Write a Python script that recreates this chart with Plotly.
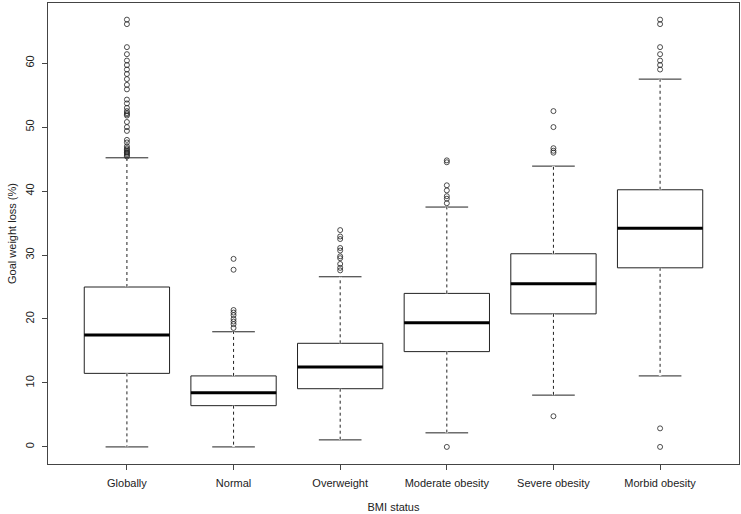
import plotly.graph_objects as go

categories = ["Globally", "Normal", "Overweight", "Moderate obesity", "Severe obesity", "Morbid obesity"]
positions = [1, 2, 3, 4, 5, 6]
q1 = [11.5, 6.45, 9.1, 14.9, 20.8, 28.0]
median = [17.5, 8.45, 12.5, 19.4, 25.5, 34.2]
q3 = [25.0, 11.1, 16.2, 24.0, 30.2, 40.2]
whisker_low = [0.0, 0.0, 1.1, 2.2, 8.1, 11.1]
whisker_high = [45.2, 18.0, 26.6, 37.5, 43.9, 57.5]

outliers_globally = [66.8, 66.1, 62.5, 61.4, 60.4, 59.7, 59.0, 58.3, 57.5, 56.6, 55.9, 54.3,
                     53.7, 53.0, 52.5, 52.2, 52.0, 51.8, 50.8, 50.0, 49.4, 48.0, 47.6, 47.0,
                     46.7, 46.5, 46.3, 46.1, 46.0, 45.8, 45.6, 45.4]
outliers_normal = [29.4, 27.7, 21.4, 21.0, 20.6, 20.0, 19.6, 19.2, 18.6]
outliers_overweight = [33.9, 32.9, 32.5, 31.1, 30.7, 29.8, 29.5, 28.6, 28.0, 27.6]
outliers_moderate = [44.8, 44.5, 40.9, 40.1, 39.2, 38.8, 38.1, 0.0]
outliers_severe = [52.5, 50.0, 46.7, 46.3, 46.0, 4.8]
outliers_morbid = [66.8, 66.1, 62.5, 61.4, 60.4, 59.7, 59.0, 2.9, 0.0]
outliers = [outliers_globally, outliers_normal, outliers_overweight,
            outliers_moderate, outliers_severe, outliers_morbid]

box_width = 0.8
ink = "#222222"
font_family = "Liberation Sans, Arial, sans-serif"

fig = go.Figure()

for i in range(len(categories)):
    fig.add_trace(go.Box(
        x=[positions[i]], q1=[q1[i]], median=[median[i]], q3=[q3[i]],
        lowerfence=[whisker_low[i]], upperfence=[whisker_high[i]],
        width=box_width, whiskerwidth=0.5,
        fillcolor="white", line=dict(color=ink, width=1),
        boxpoints=False, showlegend=False, name=categories[i],
        hoverinfo="skip",
    ))

# whiskers: cover Plotly's solid whisker, then draw R-style dashed whisker
wx, wy = [], []
for i in range(len(categories)):
    wx += [positions[i], positions[i], None, positions[i], positions[i], None]
    wy += [q3[i], whisker_high[i], None, q1[i], whisker_low[i], None]
fig.add_trace(go.Scatter(x=wx, y=wy, mode="lines", line=dict(color="white", width=2.5),
                         showlegend=False, hoverinfo="skip"))
fig.add_trace(go.Scatter(x=wx, y=wy, mode="lines", line=dict(color=ink, width=1, dash="3px,3px"),
                         showlegend=False, hoverinfo="skip"))

# thick medians
mx, my = [], []
for i in range(len(categories)):
    mx += [positions[i] - box_width / 2, positions[i] + box_width / 2, None]
    my += [median[i], median[i], None]
fig.add_trace(go.Scatter(x=mx, y=my, mode="lines", line=dict(color="black", width=3),
                         showlegend=False, hoverinfo="skip"))

# outliers
ox, oy = [], []
for i in range(len(categories)):
    ox += [positions[i]] * len(outliers[i])
    oy += outliers[i]
fig.add_trace(go.Scatter(x=ox, y=oy, mode="markers",
                         marker=dict(symbol="circle-open", size=5, color=ink, line=dict(width=0.8)),
                         showlegend=False, hoverinfo="skip"))

axis_common = dict(showgrid=False, zeroline=False, showline=True, mirror=True,
                   linecolor="#444444", linewidth=1, ticks="outside", ticklen=5,
                   tickcolor="#444444", automargin=False,
                   tickfont=dict(family=font_family, size=11, color=ink))

fig.update_layout(
    width=741, height=514,
    margin=dict(l=48, r=2, t=3, b=50),
    paper_bgcolor="white", plot_bgcolor="white",
    font=dict(family=font_family, size=11, color=ink),
    xaxis=dict(range=[0.26, 6.74], tickmode="array", tickvals=positions, ticktext=categories,
               ticklabelstandoff=4,
               title=dict(text="BMI status", standoff=15, font=dict(size=11)), **axis_common),
    yaxis=dict(range=[-2.67, 69.4], tickmode="array", tickvals=[0, 10, 20, 30, 40, 50, 60],
               tickangle=-90, ticklabelstandoff=4,
               title=dict(text="Goal weight loss (%)", standoff=4, font=dict(size=11)), **axis_common),
)

fig.write_html("out.html", config={"displayModeBar": False},
               post_script="document.body.style.margin='0';")
